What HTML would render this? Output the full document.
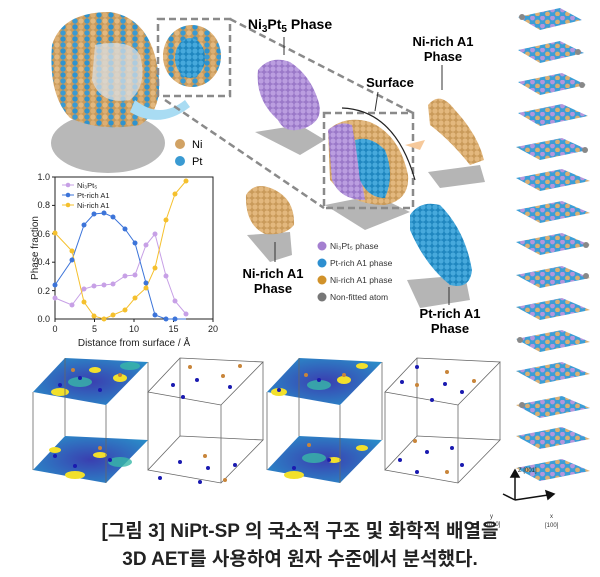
<!DOCTYPE html>
<html><head><meta charset="utf-8"><style>
body{margin:0;background:#fff;}
svg{display:block;font-family:"Liberation Sans",sans-serif;}
.cap{font-family:"Liberation Sans","Noto Sans CJK KR",sans-serif;}
</style></head><body>
<svg width="600" height="577" viewBox="0 0 600 577" xmlns="http://www.w3.org/2000/svg">
<defs>
<pattern id="ni" width="6" height="6" patternUnits="userSpaceOnUse"><rect width="6" height="6" fill="#c99a5a"/><circle cx="3" cy="3" r="2.6" fill="#e3b87e"/></pattern>
<pattern id="pt" width="6" height="6" patternUnits="userSpaceOnUse"><rect width="6" height="6" fill="#1f86bf"/><circle cx="3" cy="3" r="2.6" fill="#47a9dc"/></pattern>
<pattern id="pu" width="6" height="6" patternUnits="userSpaceOnUse"><rect width="6" height="6" fill="#9a78c8"/><circle cx="3" cy="3" r="2.6" fill="#bb9ee0"/></pattern>
<pattern id="mix" width="12" height="12" patternUnits="userSpaceOnUse"><rect width="12" height="12" fill="#c99a5a"/><circle cx="3" cy="3" r="2.7" fill="#2e93cf"/><circle cx="9" cy="9" r="2.7" fill="#e3b87e"/><circle cx="9" cy="3" r="2.7" fill="#dcae72"/><circle cx="3" cy="9" r="2.7" fill="#3a9ad2"/></pattern>
<pattern id="slab" width="10" height="8" patternUnits="userSpaceOnUse"><rect width="10" height="8" fill="#3c9ed6"/><circle cx="2.5" cy="2" r="2.4" fill="#b496dc"/><circle cx="7.5" cy="6" r="2.4" fill="#d9ae74"/></pattern>
<radialGradient id="cm" cx="50%" cy="50%" r="60%"><stop offset="0" stop-color="#3a3fb0"/><stop offset="1" stop-color="#2a8ac8"/></radialGradient>
</defs>

<!-- big blob -->
<ellipse cx="108" cy="143" rx="57" ry="30" fill="#b8b8b8"/>
<path d="M52,45 Q62,12 110,12 Q150,18 158,70 Q164,110 140,125 Q100,132 70,118 Q48,95 52,45Z" fill="url(#mix)"/>
<path d="M95,45 Q130,38 140,55 Q148,85 130,100 Q100,105 92,80Z" fill="#d8dde3" opacity="0.75"/>
<path d="M135,100 Q160,120 185,100 L190,107 Q160,130 130,112Z" fill="#a9dcf3"/>
<!-- dashed box and small blob -->
<rect x="158" y="19" width="72" height="77" fill="none" stroke="#8a8a8a" stroke-width="2.5" stroke-dasharray="7,4"/>
<ellipse cx="192" cy="56" rx="29" ry="31" fill="url(#mix)"/>
<ellipse cx="190" cy="58" rx="15" ry="20" fill="url(#pt)"/>
<line x1="230" y1="19" x2="413" y2="113" stroke="#8a8a8a" stroke-width="2.5" stroke-dasharray="7,4"/>
<line x1="165" y1="100" x2="324" y2="208" stroke="#8a8a8a" stroke-width="2.5" stroke-dasharray="7,4"/>
<!-- Ni Pt legend -->
<circle cx="180" cy="144" r="5" fill="#d1a264"/><text x="192" y="148" font-size="11">Ni</text>
<circle cx="180" cy="161" r="5" fill="#3a9ad2"/><text x="192" y="165" font-size="11">Pt</text>

<!-- Ni3Pt5 -->
<text x="290" y="29" font-size="14" font-weight="bold" text-anchor="middle">Ni<tspan font-size="10" dy="3">3</tspan><tspan dy="-3">Pt</tspan><tspan font-size="10" dy="3">5</tspan><tspan dy="-3"> Phase</tspan></text>
<line x1="284" y1="37" x2="284" y2="55" stroke="#333"/>
<polygon points="255,132 300,125 325,140 300,155" fill="#b5b5b5"/>
<path d="M258,70 Q270,55 290,62 Q310,75 318,100 Q325,120 305,128 Q285,135 278,120 Q255,100 258,70Z" fill="url(#pu)"/>
<!-- center -->
<text x="390" y="87" font-size="13" font-weight="bold" text-anchor="middle">Surface</text>
<line x1="378" y1="92" x2="375" y2="111" stroke="#333"/>
<polygon points="325,205 375,195 410,212 365,230" fill="#b5b5b5"/>
<rect x="324" y="113" width="89" height="95" fill="none" stroke="#8a8a8a" stroke-width="2.5" stroke-dasharray="7,4"/>
<path d="M328,130 Q345,115 370,122 Q400,135 408,175 Q410,200 385,205 Q350,205 330,180Z" fill="url(#ni)"/>
<path d="M328,130 Q340,120 352,125 L365,200 Q340,200 332,180Z" fill="url(#pu)"/>
<path d="M355,140 Q370,135 385,150 Q395,175 385,198 Q368,198 360,180Z" fill="url(#pt)"/>
<path d="M342,108 Q395,110 415,180" fill="none" stroke="#222" stroke-width="1.2"/>
<!-- ni-rich top right -->
<text x="443" y="46" font-size="13" font-weight="bold" text-anchor="middle">Ni-rich A1</text>
<text x="443" y="61" font-size="13" font-weight="bold" text-anchor="middle">Phase</text>
<line x1="442" y1="65" x2="442" y2="90" stroke="#333"/>
<path d="M428,172 L480,165 L485,182 L440,188Z" fill="#b5b5b5"/>
<path d="M428,105 Q440,90 455,110 Q478,135 484,160 L470,165 Q450,140 430,125Z" fill="url(#ni)"/>
<path d="M425,140 L405,145 L420,150Z" fill="#f6c99b"/>
<!-- ni-rich bottom left -->
<path d="M247,235 L290,232 L292,255 L270,262Z" fill="#b5b5b5"/>
<path d="M246,195 Q255,180 275,190 Q295,200 294,225 Q285,236 265,234 Q245,225 246,195Z" fill="url(#ni)"/>
<line x1="275" y1="242" x2="275" y2="262" stroke="#333"/>
<text x="273" y="278" font-size="13" font-weight="bold" text-anchor="middle">Ni-rich A1</text>
<text x="273" y="293" font-size="13" font-weight="bold" text-anchor="middle">Phase</text>
<!-- legend -->
<g font-size="8.5" fill="#333">
<circle cx="322" cy="246" r="4.5" fill="#a47fd0"/><text x="330" y="249">Ni₃Pt₅ phase</text>
<circle cx="322" cy="263" r="4.5" fill="#2d8fd0"/><text x="330" y="266">Pt-rich A1 phase</text>
<circle cx="322" cy="280" r="4.5" fill="#d1922a"/><text x="330" y="283">Ni-rich A1 phase</text>
<circle cx="322" cy="297" r="4.5" fill="#777"/><text x="330" y="300">Non-fitted atom</text>
</g>
<!-- pt-rich -->
<path d="M407,280 L465,275 L470,300 L420,308Z" fill="#b5b5b5"/>
<path d="M410,215 Q420,200 440,205 Q465,230 472,270 Q470,290 450,285 Q425,265 410,230Z" fill="url(#pt)"/>
<line x1="449" y1="287" x2="449" y2="305" stroke="#333"/>
<text x="450" y="318" font-size="13" font-weight="bold" text-anchor="middle">Pt-rich A1</text>
<text x="450" y="333" font-size="13" font-weight="bold" text-anchor="middle">Phase</text>

<!-- right slabs -->
<g>
<polygon points="518,17 560,8 582,20 540,30" fill="url(#slab)"/>
<polygon points="518,50 560,41 584,53 540,63" fill="url(#slab)"/>
<polygon points="518,82 562,73 586,85 540,95" fill="url(#slab)"/>
<polygon points="518,113 562,104 588,116 540,126" fill="url(#slab)"/>
<polygon points="516,147 562,138 588,150 540,160" fill="url(#slab)"/>
<polygon points="516,178 562,169 590,181 540,191" fill="url(#slab)"/>
<polygon points="516,210 562,201 590,213 540,223" fill="url(#slab)"/>
<polygon points="516,242 562,233 590,245 540,255" fill="url(#slab)"/>
<polygon points="516,275 562,266 590,278 540,288" fill="url(#slab)"/>
<polygon points="516,307 562,298 590,310 540,320" fill="url(#slab)"/>
<polygon points="516,339 562,330 590,342 540,352" fill="url(#slab)"/>
<polygon points="516,371 562,362 590,374 540,384" fill="url(#slab)"/>
<polygon points="516,405 562,396 590,408 540,418" fill="url(#slab)"/>
<polygon points="516,436 562,427 590,439 540,449" fill="url(#slab)"/>
<polygon points="516,468 562,459 590,471 540,481" fill="url(#slab)"/>
<g fill="#888"><circle cx="522" cy="17" r="3"/><circle cx="578" cy="52" r="3"/><circle cx="582" cy="85" r="3"/><circle cx="585" cy="150" r="3"/><circle cx="586" cy="245" r="3"/><circle cx="586" cy="276" r="3"/><circle cx="520" cy="340" r="3"/><circle cx="522" cy="405" r="3"/></g>
</g>

<!-- chart -->
<g font-size="9" fill="#222">
<rect x="55" y="177" width="158" height="142" fill="none" stroke="#222"/>
<g stroke="#222">
<line x1="55" y1="319" x2="55" y2="322"/><line x1="94.5" y1="319" x2="94.5" y2="322"/><line x1="134" y1="319" x2="134" y2="322"/><line x1="173.5" y1="319" x2="173.5" y2="322"/><line x1="213" y1="319" x2="213" y2="322"/>
<line x1="52" y1="177" x2="55" y2="177"/><line x1="52" y1="205.4" x2="55" y2="205.4"/><line x1="52" y1="233.8" x2="55" y2="233.8"/><line x1="52" y1="262.2" x2="55" y2="262.2"/><line x1="52" y1="290.6" x2="55" y2="290.6"/>
</g>
<g text-anchor="middle"><text x="55" y="332">0</text><text x="94.5" y="332">5</text><text x="134" y="332">10</text><text x="173.5" y="332">15</text><text x="213" y="332">20</text></g>
<g text-anchor="end"><text x="50" y="180">1.0</text><text x="50" y="208">0.8</text><text x="50" y="237">0.6</text><text x="50" y="265">0.4</text><text x="50" y="294">0.2</text><text x="50" y="322">0.0</text></g>
<text x="134" y="346" text-anchor="middle" font-size="10">Distance from surface / Å</text>
<text transform="translate(38,248) rotate(-90)" text-anchor="middle" font-size="10">Phase fraction</text>
<polyline fill="none" stroke="#c7a0e6" stroke-width="1" points="55,298 72,305 84,289 94,286 104,285 113,284 125,276 135,275 146,245 155,234 166,276 175,301 186,314"/>
<polyline fill="none" stroke="#3c74d9" stroke-width="1" points="55,285 72,260 84,225 94,214 104,213 113,217 125,229 135,243 146,283 155,315 166,319 175,319 186,319"/>
<polyline fill="none" stroke="#f5c02d" stroke-width="1" points="55,233 72,251 84,302 94,316 104,319 113,315 125,310 135,298 146,288 155,268 166,220 175,194 186,181"/>
<g fill="#c7a0e6"><circle cx="55" cy="298" r="2.5"/><circle cx="72" cy="305" r="2.5"/><circle cx="84" cy="289" r="2.5"/><circle cx="94" cy="286" r="2.5"/><circle cx="104" cy="285" r="2.5"/><circle cx="113" cy="284" r="2.5"/><circle cx="125" cy="276" r="2.5"/><circle cx="135" cy="275" r="2.5"/><circle cx="146" cy="245" r="2.5"/><circle cx="155" cy="234" r="2.5"/><circle cx="166" cy="276" r="2.5"/><circle cx="175" cy="301" r="2.5"/><circle cx="186" cy="314" r="2.5"/></g>
<g fill="#3c74d9"><circle cx="55" cy="285" r="2.5"/><circle cx="72" cy="260" r="2.5"/><circle cx="84" cy="225" r="2.5"/><circle cx="94" cy="214" r="2.5"/><circle cx="104" cy="213" r="2.5"/><circle cx="113" cy="217" r="2.5"/><circle cx="125" cy="229" r="2.5"/><circle cx="135" cy="243" r="2.5"/><circle cx="146" cy="283" r="2.5"/><circle cx="155" cy="315" r="2.5"/><circle cx="166" cy="319" r="2.5"/><circle cx="175" cy="319" r="2.5"/></g>
<g fill="#f5c02d"><circle cx="55" cy="233" r="2.5"/><circle cx="72" cy="251" r="2.5"/><circle cx="84" cy="302" r="2.5"/><circle cx="94" cy="316" r="2.5"/><circle cx="104" cy="319" r="2.5"/><circle cx="113" cy="315" r="2.5"/><circle cx="125" cy="310" r="2.5"/><circle cx="135" cy="298" r="2.5"/><circle cx="146" cy="288" r="2.5"/><circle cx="155" cy="268" r="2.5"/><circle cx="166" cy="220" r="2.5"/><circle cx="175" cy="194" r="2.5"/><circle cx="186" cy="181" r="2.5"/></g>
<g font-size="7.5"><line x1="62" y1="185" x2="74" y2="185" stroke="#c7a0e6"/><circle cx="68" cy="185" r="2.3" fill="#c7a0e6"/><text x="77" y="188">Ni₃Pt₅</text>
<line x1="62" y1="195" x2="74" y2="195" stroke="#3c74d9"/><circle cx="68" cy="195" r="2.3" fill="#3c74d9"/><text x="77" y="198">Pt-rich A1</text>
<line x1="62" y1="205" x2="74" y2="205" stroke="#f5c02d"/><circle cx="68" cy="205" r="2.3" fill="#f5c02d"/><text x="77" y="208">Ni-rich A1</text></g>
</g>

<!-- cubes -->
<g id="c1">
<polygon points="33,392 106,405 148,362 65,358" fill="url(#cm)"/>
<g fill="#f2e02c"><ellipse cx="60" cy="392" rx="9" ry="4"/><ellipse cx="120" cy="378" rx="7" ry="4"/><ellipse cx="95" cy="370" rx="6" ry="3"/></g>
<g fill="#38b8a8" opacity="0.8"><ellipse cx="80" cy="382" rx="12" ry="5"/><ellipse cx="130" cy="366" rx="10" ry="4"/></g>
<polygon points="33,470 106,483 148,440 65,436" fill="url(#cm)"/>
<g fill="#f2e02c"><ellipse cx="75" cy="475" rx="10" ry="4"/><ellipse cx="100" cy="455" rx="7" ry="3"/><ellipse cx="55" cy="450" rx="6" ry="3"/></g>
<g fill="#38b8a8" opacity="0.8"><ellipse cx="120" cy="462" rx="12" ry="5"/></g>
<g fill="none" stroke="#666" stroke-width="0.8"><line x1="33" y1="392" x2="33" y2="470"/><line x1="106" y1="405" x2="106" y2="483"/><line x1="148" y1="362" x2="148" y2="440"/><line x1="65" y1="358" x2="65" y2="436"/></g>
<g fill="#1a1ab0"><circle cx="60" cy="385" r="2"/><circle cx="80" cy="378" r="2"/><circle cx="100" cy="390" r="2"/><circle cx="75" cy="466" r="2"/><circle cx="110" cy="460" r="2"/><circle cx="55" cy="456" r="2"/></g>
<g fill="#c8853a"><circle cx="73" cy="370" r="2"/><circle cx="120" cy="375" r="2"/><circle cx="100" cy="448" r="2"/></g>
</g>
<g transform="translate(115,0)">
<g fill="none" stroke="#666" stroke-width="0.8"><polygon points="33,392 106,405 148,362 65,358"/><polygon points="33,470 106,483 148,440 65,436"/><line x1="33" y1="392" x2="33" y2="470"/><line x1="106" y1="405" x2="106" y2="483"/><line x1="148" y1="362" x2="148" y2="440"/><line x1="65" y1="358" x2="65" y2="436"/></g>
<g fill="#1a1ab0"><circle cx="58" cy="385" r="2"/><circle cx="82" cy="380" r="2"/><circle cx="115" cy="387" r="2"/><circle cx="68" cy="397" r="2"/><circle cx="65" cy="462" r="2"/><circle cx="93" cy="468" r="2"/><circle cx="120" cy="465" r="2"/><circle cx="45" cy="478" r="2"/><circle cx="85" cy="482" r="2"/></g>
<g fill="#c8853a"><circle cx="75" cy="367" r="2"/><circle cx="108" cy="376" r="2"/><circle cx="125" cy="366" r="2"/><circle cx="90" cy="456" r="2"/><circle cx="110" cy="480" r="2"/></g>
</g>
<g transform="translate(234,0)">
<polygon points="33,392 106,405 148,362 65,358" fill="url(#cm)"/>
<g fill="#f2e02c"><ellipse cx="45" cy="392" rx="8" ry="4"/><ellipse cx="110" cy="380" rx="7" ry="4"/><ellipse cx="128" cy="366" rx="6" ry="3"/></g>
<g fill="#38b8a8" opacity="0.8"><ellipse cx="85" cy="385" rx="12" ry="5"/></g>
<polygon points="33,470 106,483 148,440 65,436" fill="url(#cm)"/>
<g fill="#f2e02c"><ellipse cx="60" cy="475" rx="10" ry="4"/><ellipse cx="100" cy="460" rx="7" ry="3"/><ellipse cx="128" cy="448" rx="6" ry="3"/></g>
<g fill="#38b8a8" opacity="0.8"><ellipse cx="80" cy="458" rx="12" ry="5"/></g>
<g fill="none" stroke="#666" stroke-width="0.8"><line x1="33" y1="392" x2="33" y2="470"/><line x1="106" y1="405" x2="106" y2="483"/><line x1="148" y1="362" x2="148" y2="440"/><line x1="65" y1="358" x2="65" y2="436"/></g>
<g fill="#1a1ab0"><circle cx="45" cy="390" r="2"/><circle cx="85" cy="380" r="2"/><circle cx="60" cy="468" r="2"/><circle cx="95" cy="460" r="2"/></g>
<g fill="#c8853a"><circle cx="72" cy="375" r="2"/><circle cx="110" cy="375" r="2"/><circle cx="75" cy="445" r="2"/></g>
</g>
<g transform="translate(352,0)">
<g fill="none" stroke="#666" stroke-width="0.8"><polygon points="33,392 106,405 148,362 65,358"/><polygon points="33,470 106,483 148,440 65,436"/><line x1="33" y1="392" x2="33" y2="470"/><line x1="106" y1="405" x2="106" y2="483"/><line x1="148" y1="362" x2="148" y2="440"/><line x1="65" y1="358" x2="65" y2="436"/></g>
<g fill="#1a1ab0"><circle cx="65" cy="367" r="2"/><circle cx="50" cy="382" r="2"/><circle cx="93" cy="384" r="2"/><circle cx="110" cy="392" r="2"/><circle cx="80" cy="400" r="2"/><circle cx="48" cy="460" r="2"/><circle cx="75" cy="452" r="2"/><circle cx="100" cy="448" r="2"/><circle cx="110" cy="465" r="2"/><circle cx="65" cy="472" r="2"/></g>
<g fill="#c8853a"><circle cx="95" cy="372" r="2"/><circle cx="122" cy="381" r="2"/><circle cx="65" cy="385" r="2"/><circle cx="95" cy="472" r="2"/><circle cx="63" cy="441" r="2"/></g>
</g>
<!-- axes triad -->
<g stroke="#111" stroke-width="1.5" fill="#111">
<line x1="515" y1="500" x2="515" y2="475"/><polygon points="511,477 519,477 515,470"/>
<line x1="515" y1="500" x2="548" y2="495"/><polygon points="546,491 548,499 554,494"/>
<line x1="515" y1="500" x2="503" y2="494"/>
</g>
<g font-size="6" fill="#333"><text x="518" y="472">Z [001]</text><text x="490" y="518">y</text><text x="487" y="526">[010]</text><text x="550" y="518">x</text><text x="545" y="527">[100]</text></g>

<!-- caption -->
<g class="cap" font-size="19" font-weight="bold" fill="#222" text-anchor="middle">
<text x="300" y="537">[그림 3] NiPt-SP 의 국소적 구조 및 화학적 배열을</text>
<text x="300" y="565">3D AET를 사용하여 원자 수준에서 분석했다.</text>
</g>
</svg>
</body></html>
